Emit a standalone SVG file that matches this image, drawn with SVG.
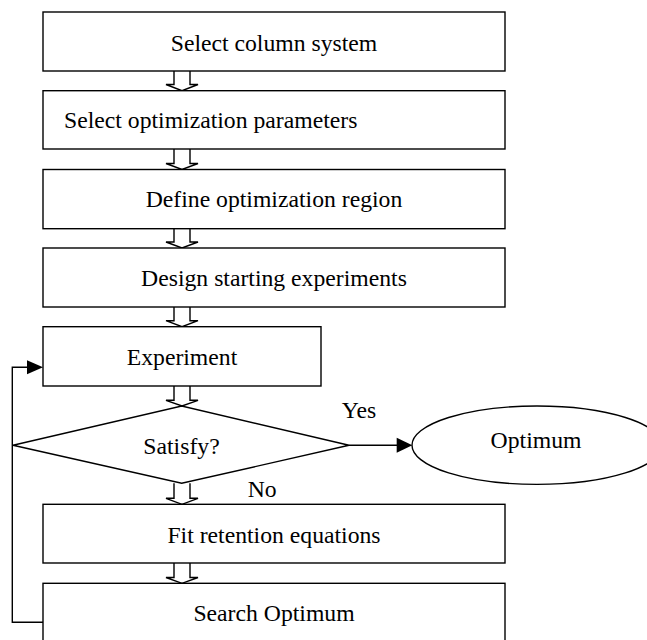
<svg xmlns="http://www.w3.org/2000/svg" width="647" height="640" viewBox="0 0 647 640">
<style>
.box{fill:#fff;stroke:#000;stroke-width:1.4}
.t{font-family:"Liberation Serif","Times New Roman",serif;font-size:23.7px;fill:#000}
.c{text-anchor:middle}
.blk{fill:#fff;stroke:#000;stroke-width:1.4;stroke-linejoin:miter}
.ln{fill:none;stroke:#000;stroke-width:1.4}
.ah{fill:#000;stroke:none}
</style>
<rect width="647" height="640" fill="#fff"/>
<g id="connectors">
<path class="blk" d="M174,71 V84.5 H166 L182,90.7 L198,84.5 H190 V71"/>
<path class="blk" d="M174,149 V163.5 H166 L182,169.5 L198,163.5 H190 V149"/>
<path class="blk" d="M174,228.7 V242 H166 L182,248 L198,242 H190 V228.7"/>
<path class="blk" d="M174,307 V320.7 H166 L182,326.7 L198,320.7 H190 V307"/>
<path class="blk" d="M174,386 V400.3 H166 L182,406 L198,400.3 H190 V386"/>
<path class="blk" d="M174,483.3 V498.3 H166 L182,504.3 L198,498.3 H190 V483.3"/>
<path class="blk" d="M174,563 V577.5 H166 L182,583.3 L198,577.5 H190 V563"/>
<path class="ln" d="M43,622.3 H12.3 V367.3 H28"/>
<polygon class="ah" points="27,360.3 43,367.3 27,374.3"/>
<path class="ln" d="M349,445.3 H398"/>
<polygon class="ah" points="396.7,437.8 412.3,445.3 396.7,452.8"/>
<text class="t" x="341.7" y="417.7">Yes</text>
<text class="t" x="247.7" y="496.7">No</text>
</g>
<g id="n1"><rect class="box" x="43" y="12" width="462" height="59"/><text class="t c" x="274" y="51">Select column system</text></g>
<g id="n2"><rect class="box" x="43" y="90.7" width="462" height="58.3"/><text class="t" x="64" y="128.3">Select optimization parameters</text></g>
<g id="n3"><rect class="box" x="43" y="169.5" width="462" height="59.2"/><text class="t c" x="274" y="207.3">Define optimization region</text></g>
<g id="n4"><rect class="box" x="43" y="248" width="462" height="59"/><text class="t c" x="274" y="286">Design starting experiments</text></g>
<g id="n5"><rect class="box" x="43" y="326.7" width="278" height="59.3"/><text class="t c" x="182" y="365">Experiment</text></g>
<g id="n6"><polygon class="box" points="13,445.3 181.7,406 349,445.3 181.7,483.3"/><text class="t c" x="181.5" y="454">Satisfy?</text></g>
<g id="n7"><ellipse class="box" cx="537" cy="445.2" rx="125" ry="39.2"/><text class="t c" x="536" y="448.3">Optimum</text></g>
<g id="n8"><rect class="box" x="43" y="504.3" width="462" height="58.7"/><text class="t c" x="274" y="542.7">Fit retention equations</text></g>
<g id="n9"><rect class="box" x="43" y="583.3" width="462" height="59"/><text class="t c" x="274" y="620.7">Search Optimum</text></g>
</svg>
